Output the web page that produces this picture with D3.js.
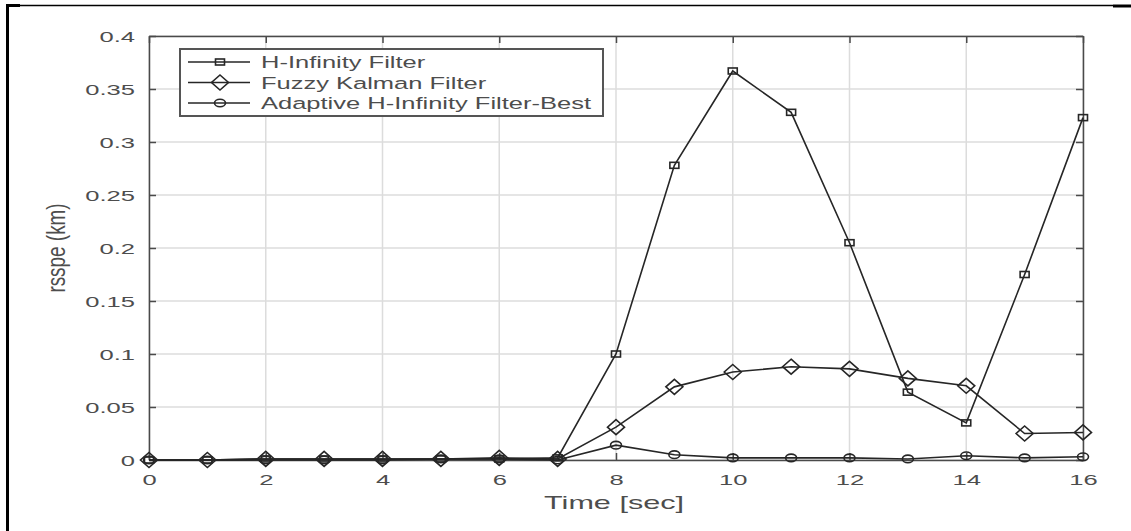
<!DOCTYPE html>
<html><head><meta charset="utf-8">
<script src="https://cdn.jsdelivr.net/npm/d3@7"></script>
<style>body{margin:0;background:#fff}svg{display:block}</style>
</head><body><svg id="c" width="1131" height="531"></svg>
<script>
const time = [0,1,2,3,4,5,6,7,8,9,10,11,12,13,14,15,16];
const hInf = [0,0,0.001,0.001,0.001,0.001,0.001,0.002,0.1,0.278,0.367,0.328,0.205,0.064,0.035,0.175,0.323];
const fuzzy = [0,0,0.001,0.001,0.001,0.001,0.002,0.001,0.031,0.069,0.083,0.088,0.086,0.077,0.070,0.025,0.026];
const adaptive = [0,0,0,0,0,0.001,0.001,0,0.014,0.005,0.002,0.002,0.002,0.001,0.004,0.002,0.003];
const xTicks = [0,2,4,6,8,10,12,14,16];
const yTicks = [0,0.05,0.1,0.15,0.2,0.25,0.3,0.35,0.4];
const seriesNames = ["H-Infinity Filter","Fuzzy Kalman Filter","Adaptive H-Infinity Filter-Best"];
const seriesMarkers = ["square","diamond","circle"];

const svg = d3.select("#c");
const L=149,R=1083,T=36,B=460;
const x = d3.scaleLinear().domain([0,16]).range([L,R]);
const y = d3.scaleLinear().domain([0,0.4]).range([B,T]);
const ink="#262626", axc="#4a4a4a", txt="#4d4d4d", font="'Liberation Sans', Arial, sans-serif";
const SX = 1.65; // horizontal stretch of the reference text

// outer frame
svg.append("line").attr("x1",7).attr("x2",1113).attr("y1",5.5).attr("y2",5.5).attr("stroke","#000").attr("stroke-width",1.5);
svg.append("line").attr("x1",7).attr("x2",20).attr("y1",5.5).attr("y2",5.5).attr("stroke","#000").attr("stroke-width",3);
svg.append("line").attr("x1",1113).attr("x2",1131).attr("y1",6).attr("y2",6).attr("stroke","#000").attr("stroke-width",3);
svg.append("line").attr("x1",7.5).attr("x2",7.5).attr("y1",4).attr("y2",531).attr("stroke","#000").attr("stroke-width",3);

// grid
const g = svg.append("g");
g.selectAll(".gx").data(xTicks).enter().append("line")
 .attr("x1",d=>x(d)).attr("x2",d=>x(d)).attr("y1",T).attr("y2",B).attr("stroke","#dcdcdc").attr("stroke-width",1.5);
g.selectAll(".gy").data(yTicks).enter().append("line")
 .attr("y1",d=>y(d)).attr("y2",d=>y(d)).attr("x1",L).attr("x2",R).attr("stroke","#dcdcdc").attr("stroke-width",1.5);

// axes
const xa = svg.append("g").attr("transform",`translate(0,${B})`).call(d3.axisBottom(x).tickValues(xTicks).tickSizeInner(-7).tickSizeOuter(0));
const xt = svg.append("g").attr("transform",`translate(0,${T})`).call(d3.axisTop(x).tickValues(xTicks).tickSizeInner(-7).tickSizeOuter(0).tickFormat(""));
const ya = svg.append("g").attr("transform",`translate(${L},0)`).call(d3.axisLeft(y).tickValues(yTicks).tickSizeInner(-7).tickSizeOuter(0).tickFormat(d=>d===0?"0":String(+d.toFixed(2))));
const yr = svg.append("g").attr("transform",`translate(${R},0)`).call(d3.axisRight(y).tickValues(yTicks).tickSizeInner(-7).tickSizeOuter(0).tickFormat(""));
[xa,xt,ya,yr].forEach(a=>{
  a.selectAll("path").attr("stroke",axc).attr("stroke-width",1.5);
  a.selectAll("line").attr("stroke",axc).attr("stroke-width",1.5);
  a.selectAll("text").attr("fill",txt).attr("font-family",font).attr("font-size",15.5);
});
xa.selectAll("text").attr("x",null).attr("y",null).attr("dy",null)
  .attr("transform",`translate(0,24.5) scale(${SX},1)`).attr("text-anchor","middle");
ya.selectAll("text").attr("x",null).attr("dy",null)
  .attr("transform",`translate(-14,5.5) scale(${SX},1)`).attr("text-anchor","end");

svg.append("text").attr("transform",`translate(614,509) scale(1.7,1)`).attr("text-anchor","middle")
 .attr("font-family",font).attr("font-size",18).attr("fill",txt).text("Time [sec]");
svg.append("text").attr("transform","translate(65,248) rotate(-90) scale(1.05,1.4)").attr("text-anchor","middle")
 .attr("font-family",font).attr("font-size",18).attr("fill",txt).text("rsspe (km)");

function marker(sel,type){
  if(type==="square") sel.append("rect").attr("x",-4.5).attr("y",-3).attr("width",9).attr("height",6);
  else if(type==="diamond") sel.append("path").attr("d","M0,-7.5L8.5,0L0,7.5L-8.5,0Z");
  else sel.append("ellipse").attr("rx",5.5).attr("ry",3.8);
  sel.selectAll("*").attr("fill","none").attr("stroke",ink).attr("stroke-width",1.6);
}

const all=[hInf,fuzzy,adaptive];
const line = d3.line().x((d,i)=>x(time[i])).y(d=>y(d));
all.forEach((vals,k)=>{
  svg.append("path").attr("d",line(vals)).attr("fill","none").attr("stroke",ink).attr("stroke-width",1.6);
  vals.forEach((v,i)=>{
    const m = svg.append("g").attr("transform",`translate(${x(time[i])},${y(v)})`);
    marker(m,seriesMarkers[k]);
  });
});

// legend
const lg = svg.append("g");
lg.append("rect").attr("x",180).attr("y",49).attr("width",423).attr("height",67).attr("fill","#fff").attr("stroke","#555").attr("stroke-width",2);
seriesNames.forEach((n,k)=>{
  const yy = 62+k*20.5;
  lg.append("line").attr("x1",188).attr("x2",250).attr("y1",yy).attr("y2",yy).attr("stroke",ink).attr("stroke-width",1.6);
  const m = lg.append("g").attr("transform",`translate(220,${yy})`);
  marker(m,seriesMarkers[k]);
  lg.append("text").attr("transform",`translate(261,${yy+6}) scale(1.5,1)`).attr("font-family",font).attr("font-size",17).attr("fill",txt).text(n);
});
</script></body></html>
